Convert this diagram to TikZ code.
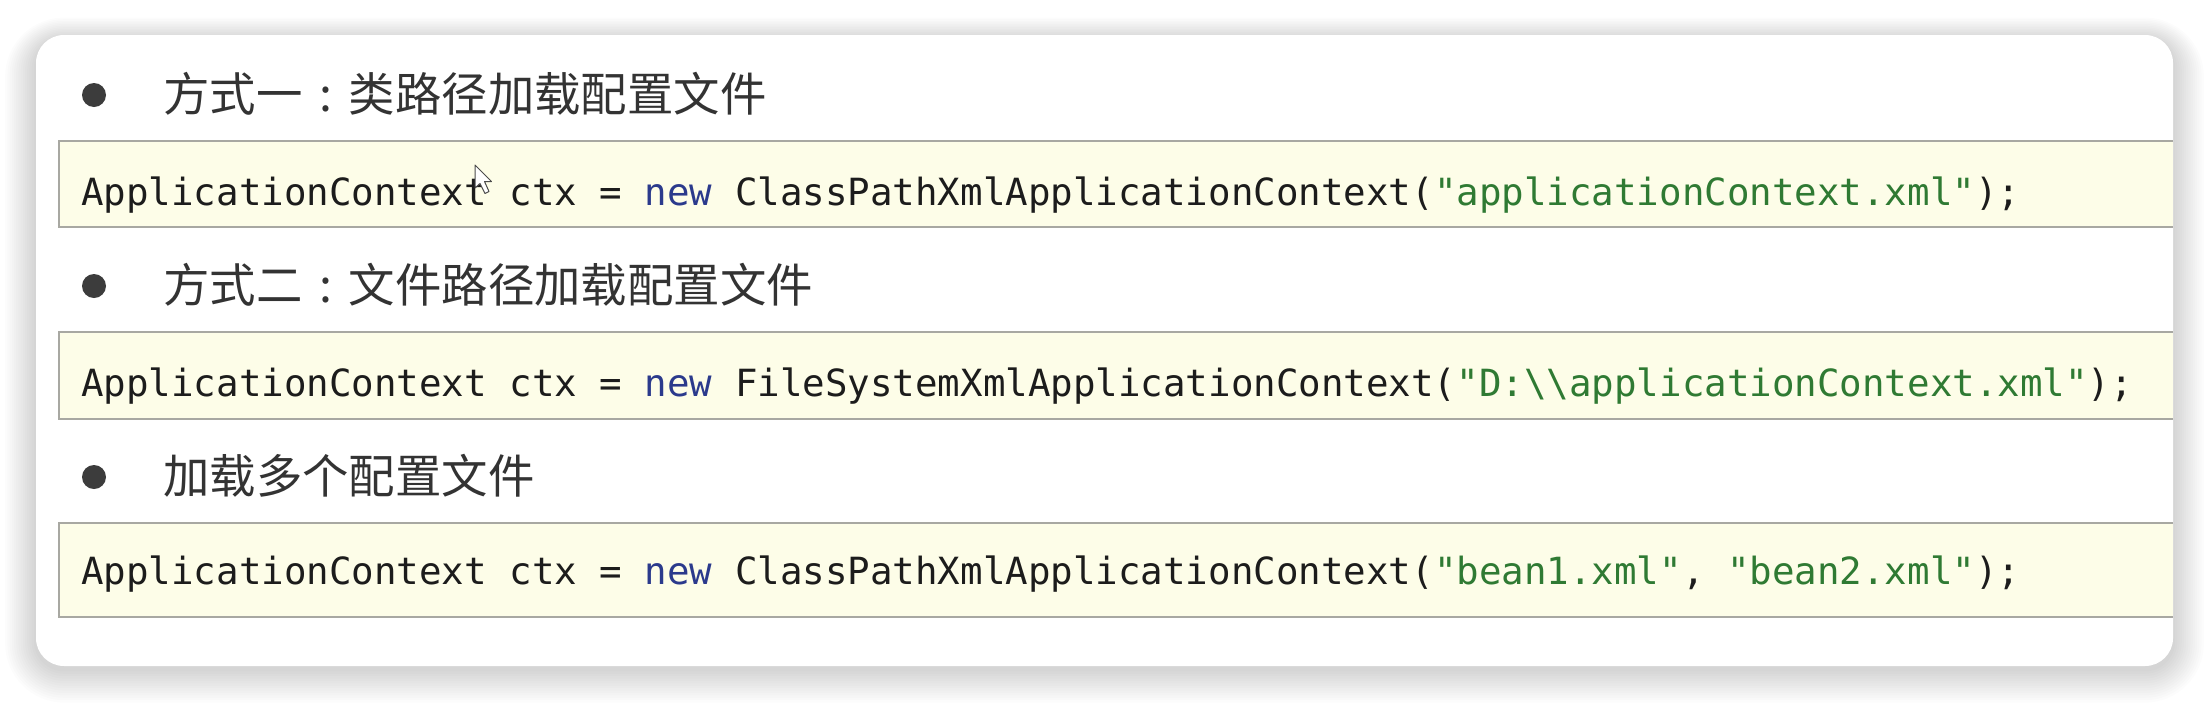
\documentclass[tikz,border=0pt]{standalone}
\usepackage{fontspec}
\newfontfamily\cjk{Noto Sans CJK SC}
\newfontfamily\codefont{DejaVu Sans Mono}
\definecolor{codefill}{HTML}{FDFDE8}
\definecolor{codeline}{HTML}{A8A8A2}
\definecolor{newblue}{HTML}{2B3A8C}
\definecolor{strgreen}{HTML}{2F7A33}
\definecolor{codetxt}{HTML}{1C1C1C}
\definecolor{cjktxt}{HTML}{333333}
\definecolor{dotcol}{HTML}{3C3C3C}
\newcommand{\cjkcolon}{\makebox[1em][c]{:}}
\begin{document}
\begin{tikzpicture}[x=1pt,y=-1pt,
  codebox/.style={draw=none, fill=codefill, inner sep=0pt, outer sep=0pt,
    anchor=north west, minimum width=2114pt, minimum height=#1},
  boxedge/.style={draw=codeline, line width=2pt},
  codetext/.style={inner sep=0pt, anchor=base west, text=codetxt,
    font=\codefont\fontsize{37.45}{40}\selectfont},
  headtext/.style={inner sep=0pt, anchor=base west, text=cjktxt,
    font=\cjk\fontsize{46.4}{50}\selectfont},
  bulletdot/.style={circle, fill=dotcol, inner sep=0pt, minimum size=24pt}]
\useasboundingbox (0,0) rectangle (2210,702);
\fill[white] (0,0) rectangle (2210,702);
% shadow
\foreach \i in {1,...,14}{
  \fill[black, opacity=0.011, rounded corners={28+2.2*\i}]
    (36-2.2*\i, 35-1.6*\i+5) rectangle (2173+2.2*\i, 666+2.4*\i+3);
}
% card
\fill[white, rounded corners=28] (36,35) rectangle (2173,666);

% row 1
\node[bulletdot] (d1) at (94,95) {};
\node[headtext] (h1) at (163,111) {方式一\cjkcolon 类路径加载配置文件};
\node[codebox=86pt] (b1) at (59,141) {};
\draw[boxedge] (b1.north east) -- (b1.north west) -- (b1.south west) -- (b1.south east);
\node[codetext] (c1) at (81,205) {ApplicationContext ctx = \textcolor{newblue}{new} ClassPathXmlApplicationContext(\textcolor{strgreen}{"applicationContext.xml"});};
% cursor
\draw[draw=black!70, fill=white, line width=1pt, line join=round]
  (475,165) -- (475,188) -- (480,183.5) -- (485,193.5) -- (489,191.5) -- (484.5,181.5) -- (491.5,181.5) -- cycle;

% row 2
\node[bulletdot] (d2) at (94,286) {};
\node[headtext] (h2) at (163,302) {方式二\cjkcolon 文件路径加载配置文件};
\node[codebox=87pt] (b2) at (59,332) {};
\draw[boxedge] (b2.north east) -- (b2.north west) -- (b2.south west) -- (b2.south east);
\node[codetext] (c2) at (81,396) {ApplicationContext ctx = \textcolor{newblue}{new} FileSystemXmlApplicationContext(\textcolor{strgreen}{"D:\textbackslash\textbackslash applicationContext.xml"});};

% row 3
\node[bulletdot] (d3) at (94,477) {};
\node[headtext] (h3) at (163,493) {加载多个配置文件};
\node[codebox=94pt] (b3) at (59,523) {};
\draw[boxedge] (b3.north east) -- (b3.north west) -- (b3.south west) -- (b3.south east);
\node[codetext] (c3) at (81,584) {ApplicationContext ctx = \textcolor{newblue}{new} ClassPathXmlApplicationContext(\textcolor{strgreen}{"bean1.xml"}, \textcolor{strgreen}{"bean2.xml"});};
\end{tikzpicture}
\end{document}
